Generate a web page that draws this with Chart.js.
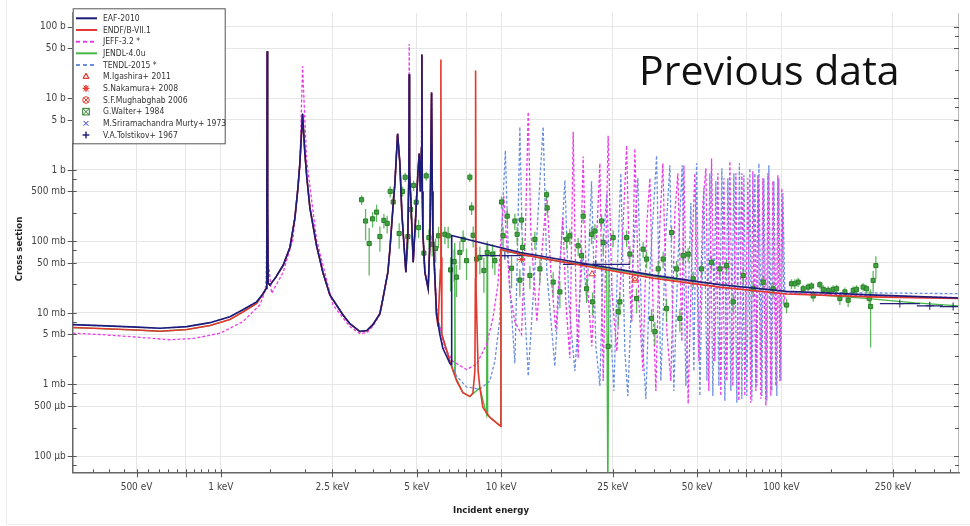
<!DOCTYPE html>
<html>
<head>
<meta charset="utf-8">
<script src="https://cdn.jsdelivr.net/npm/chart.js@4.4.0/dist/chart.umd.min.js"></script>
<style>
  html, body { margin: 0; background: #fff; }
  canvas { display: block; }
</style>
</head>
<body>
<canvas id="xs" width="970" height="526"></canvas>
<script>
// energies in keV, cross sections in mb
const xTickValues = [0.5, 0.75, 1, 2.5, 5, 7.5, 10, 25, 50, 75, 100, 250];
const xTickLabels = ['500 eV', '', '1 keV', '2.5 keV', '5 keV', '', '10 keV', '25 keV', '50 keV', '', '100 keV', '250 keV'];
const xMinorTicks = [0.35, 0.4, 0.45, 0.55, 0.6, 0.65, 0.7, 0.8, 0.85, 0.9, 0.95, 1.5, 2, 3, 3.5, 4, 4.5,
  5.5, 6, 6.5, 7, 8, 8.5, 9, 9.5, 15, 20, 30, 35, 40, 45, 55, 60, 65, 70, 80, 85, 90, 95, 150, 200, 300, 350, 400];
const yTickValues = [1e5, 5e4, 1e4, 5e3, 1e3, 500, 100, 50, 10, 5, 1, 0.5, 0.1];
const yTickLabels = ['100 b', '50 b', '10 b', '5 b', '1 b', '500 mb', '100 mb', '50 mb', '10 mb', '5 mb', '1 mb', '500 µb', '100 µb'];
const yMinorTicks = [7.5e4, 2.5e4, 7500, 2500, 750, 250, 75, 25, 7.5, 2.5, 0.75, 0.25, 0.075];

const flatEAF = [[0.296, 6.87], [0.370, 6.65], [0.501, 6.34], [0.606, 6.10], [0.756, 6.44], [0.914, 7.32],
  [1.077, 8.86], [1.198, 11.1], [1.341, 14.3]];
const flatENDF = [[0.296, 6.25], [0.370, 6.05], [0.501, 5.77], [0.606, 5.55], [0.756, 5.86], [0.914, 6.66],
  [1.077, 8.1], [1.198, 10.3], [1.341, 13.6]];
// resonances shared by EAF, ENDF, TENDL, JENDL (curves overlap)
const resLow = [[1.412, 18.4], [1.450, 22], [1.458, 200], [1.463, 45500], [1.468, 300], [1.475, 26], [1.496, 24.5],
  [1.571, 31.7], [1.668, 46.4], [1.763, 82.3], [1.837, 214], [1.883, 557], [1.913, 1234], [1.956, 6066],
  [1.994, 1696], [2.027, 765], [2.078, 294], [2.194, 87.8], [2.311, 37.1], [2.448, 17.9], [2.724, 9.45],
  [2.885, 7.09], [3.132, 5.50], [3.318, 5.67], [3.485, 6.87], [3.692, 9.75], [3.784, 15.7], [3.943, 37.1],
  [4.009, 77.3], [4.109, 294], [4.177, 653], [4.270, 3208], [4.351, 1234], [4.422, 251], [4.495, 96.5],
  [4.571, 37.1], [4.647, 133], [4.685, 900], [4.697, 21700], [4.712, 900], [4.762, 380], [4.854, 51.1],
  [4.963, 251], [5.045, 897], [5.100, 1696], [5.150, 500], [5.195, 2000], [5.213, 41000], [5.232, 500],
  [5.256, 133], [5.343, 37.1], [5.490, 21.8], [5.567, 96.5], [5.613, 1696], [5.645, 12100], [5.680, 500],
  [5.705, 133], [5.881, 9.45]];
const eafHigh = [[6.043, 5.0], [6.194, 3.2], [6.57, 1.95], [6.65, 1.9], [6.66, 121], [11.7, 70.2], [20.2, 48.4],
  [34.8, 33.8], [60.3, 24.8], [104, 20.1], [207, 17.9], [430, 16.2]];
const endfHigh = [[5.95, 6.5], [6.07, 40], [6.094, 35000], [6.115, 60], [6.143, 5.0], [6.561, 2.11], [6.934, 1.12],
  [7.302, 0.770], [7.734, 0.678], [7.93, 0.763], [8.058, 1.54], [8.09, 30], [8.105, 24600], [8.14, 20],
  [8.277, 1.54], [8.395, 0.903], [8.604, 0.478], [9.113, 0.347], [9.894, 0.267], [9.97, 0.26], [9.98, 77.3],
  [11.7, 66.5], [20.2, 45.0], [34.8, 30.7], [60.3, 23.0], [104, 18.4], [207, 16.8], [430, 16.0]];
const jendlHigh = [[6.143, 5.0], [6.561, 2.11], [6.80, 1.4], [6.83, 95], [6.86, 1.3], [7.302, 0.77], [7.734, 0.678],
  [8.395, 0.903], [8.87, 0.38], [8.91, 90], [8.95, 0.37], [9.894, 0.267], [9.97, 0.26], [9.98, 75], [15, 55],
  [23.8, 42], [24.02, 0.02], [24.25, 41], [40, 30], [70, 23.5], [120, 18.5], [200, 16.0], [300, 13.8], [430, 12.6]];
const jeffAll = [[0.296, 5.21], [0.370, 5.0], [0.500, 4.6], [0.658, 4.22], [0.80, 4.4], [0.992, 5.21], [1.198, 7.56],
  [1.378, 13.0], [1.436, 19.7], [1.455, 30], [1.462, 42000], [1.470, 60], [1.517, 18.8], [1.668, 37.1],
  [1.807, 107], [1.913, 1121], [1.956, 28240], [2.022, 1380], [2.194, 107], [2.509, 13.0], [2.885, 6.44],
  [3.132, 5.16], [3.318, 5.3], [3.485, 6.5], [3.692, 9.5], [3.784, 15.7], [3.943, 37.1], [4.009, 77.3],
  [4.109, 294], [4.177, 653], [4.270, 3208], [4.351, 1234], [4.422, 251], [4.495, 96.5], [4.571, 37.1],
  [4.647, 133], [4.685, 900], [4.697, 57650], [4.712, 900], [4.762, 380], [4.854, 51.1], [4.963, 251],
  [5.045, 897], [5.100, 1696], [5.150, 500], [5.195, 2000], [5.213, 41000], [5.232, 500], [5.256, 133],
  [5.343, 37.1], [5.490, 21.8], [5.567, 96.5], [5.613, 1696], [5.645, 12100], [5.680, 500], [5.705, 133],
  [5.881, 12], [6.194, 3.63], [6.725, 2.11], [7.523, 1.62], [8.17, 1.92], [8.87, 3.63], [9.34, 8.39],
  [9.73, 24.5], [10.22, 431], [10.74, 19.7], [11.19, 7.56], [11.82, 5.0], [12.20, 133], [12.49, 6465],
  [12.76, 133], [13.41, 7.56], [13.97, 70.2], [14.55, 475], [15.04, 37.1], [15.67, 5.50], [16.20, 51.1],
  [16.60, 214], [17.01, 14.3], [17.58, 2.33], [18.07, 3419], [18.47, 19.7], [18.82, 2.33], [19.24, 70.2],
  [19.61, 1542], [20.05, 51.1], [21.06, 3.41], [21.95, 133], [22.50, 1234], [23.12, 1.12], [24.08, 3010],
  [24.83, 19.7], [25.87, 2.91], [26.96, 70.2], [28.03, 2189], [28.79, 19.7], [29.27, 7.56], [29.99, 1990],
  [30.99, 14.3], [32.03, 1.54], [33.10, 183], [33.93, 765], [34.78, 14.3], [35.64, 0.813], [36.84, 183],
  [37.75, 1234], [39.01, 5.50], [40.31, 1.12], [41.66, 251], [42.70, 897], [44.13, 4.0], [44.86, 1158],
  [46.47, 0.537], [47.90, 70.2], [49.10, 897], [50.74, 2.11], [52.44, 345], [53.75, 1052], [55.08, 0.813],
  [56.32, 1447], [57.86, 2.11], [59.31, 897], [60.78, 0.693], [62.31, 765], [63.86, 1.12], [65.46, 1315],
  [67.09, 0.953], [68.77, 897], [70.47, 0.591], [72.24, 897], [74.04, 0.693], [75.87, 765], [77.77, 0.555],
  [79.07, 956], [81.04, 0.813], [82.38, 842], [84.43, 0.630], [85.83, 765], [87.97, 0.504], [89.44, 897],
  [91.67, 0.693], [93.18, 696], [95.50, 0.953], [97.10, 842], [98.70, 1.12], [100.3, 557], [102.0, 14.3],
  [103.7, 19.0], [200, 17.5], [430, 16.4]];
const tendlHigh = [[6.043, 6.1], [6.561, 2.11], [6.934, 1.31], [7.523, 0.924], [8.395, 0.859], [9.113, 1.12],
  [9.495, 2.11], [9.894, 8.39], [10.14, 345], [10.35, 1867], [10.65, 37.1], [11.19, 1.98], [11.47, 133],
  [11.66, 4010], [11.95, 37.1], [12.49, 1.31], [13.30, 70.2], [13.86, 1234], [14.12, 4010], [14.55, 37.1],
  [15.54, 1.80], [16.33, 70.2], [16.88, 718], [17.44, 14.3], [18.32, 1.54], [19.56, 70.2], [20.22, 14.3],
  [21.01, 696], [21.77, 3.41], [22.50, 0.953], [23.25, 133], [23.83, 475], [24.63, 5.50], [25.24, 0.813],
  [26.09, 70.2], [26.73, 897], [27.63, 2.91], [28.31, 0.693], [29.51, 51.1], [30.74, 765], [31.77, 5.50],
  [32.83, 0.630], [33.93, 37.1], [35.85, 1592], [37.14, 1.12], [38.70, 133], [39.99, 1158], [41.32, 0.813],
  [42.70, 51.1], [44.24, 1158], [45.60, 0.953], [47.52, 345], [48.70, 1.54], [49.79, 1234], [51.16, 0.693],
  [52.88, 557], [54.20, 1.12], [55.53, 897], [56.92, 0.693], [58.34, 696], [59.80, 0.953], [61.29, 1052],
  [62.82, 0.591], [64.40, 765], [66.00, 0.813], [67.65, 897], [69.34, 0.555], [70.78, 1234], [72.24, 0.630],
  [73.44, 842], [75.26, 0.693], [77.15, 1052], [78.43, 0.591], [80.37, 897], [81.71, 0.953], [83.08, 1234],
  [85.13, 0.693], [86.55, 765], [88.71, 0.591], [90.16, 1158], [92.41, 0.813], [93.96, 696], [96.29, 0.693],
  [97.88, 765], [99.52, 1.12], [101.2, 475], [102.8, 19.7], [104.5, 19.5], [430, 18.6]];

// measurements: [keV, mb, error mb]
const walter = [[3.177, 383, 60], [3.283, 193, 90], [3.381, 93.5, 60], [3.477, 207, 50], [3.593, 257, 70],
  [3.692, 117, 45], [3.815, 197, 45], [3.920, 179, 50], [4.018, 501, 90], [4.119, 356, 70], [4.326, 129, 50],
  [4.449, 501, 80], [4.545, 790, 120], [4.647, 117, 40], [4.751, 279, 70], [4.870, 607, 100], [4.976, 353, 80],
  [5.074, 156, 45], [5.301, 68.7, 20], [5.402, 824, 120], [5.523, 113, 35], [5.674, 91.5, 30], [5.834, 79.8, 30],
  [5.979, 120, 40], [6.297, 126, 35], [6.470, 120, 40], [6.599, 40.0, 20], [6.797, 52.2, 25], [6.933, 31.7, 15],
  [7.122, 70.2, 30], [7.317, 107, 35], [7.524, 53.9, 25], [7.733, 790, 110], [7.843, 294, 60], [7.945, 122, 40],
  [8.171, 56.7, 25], [8.395, 59.9, 25], [8.676, 39.2, 20], [8.915, 70.2, 30], [9.318, 66.5, 25], [9.495, 53.9, 20],
  [10.03, 356, 70], [10.16, 120, 40], [10.51, 226, 60], [10.89, 42.2, 20], [11.19, 193, 50], [11.40, 126, 35],
  [11.82, 199, 50], [11.92, 82.4, 30], [11.66, 28.8, 12], [13.19, 107, 30], [14.52, 450, 70], [14.59, 294, 60],
  [12.66, 33.4, 12], [13.75, 41.3, 15], [15.33, 27.0, 10], [16.20, 19.7, 8], [17.12, 107, 30], [17.58, 120, 30],
  [18.82, 86.9, 25], [19.36, 63.2, 20], [19.61, 226, 50], [20.17, 21.8, 8], [21.01, 126, 35], [21.19, 14.3, 5],
  [21.60, 140, 35], [22.81, 193, 45], [23.12, 96.6, 30], [24.08, 3.41, 1.5], [25.09, 113, 30], [26.15, 10.4, 4],
  [26.52, 14.3, 5], [28.03, 113, 30], [28.79, 66.5, 20], [30.41, 15.9, 6], [32.10, 78.0, 20], [33.03, 56.7, 15],
  [34.40, 8.39, 3], [35.34, 5.50, 2], [36.32, 41.3, 12], [37.84, 56.7, 15], [38.91, 11.5, 4], [40.54, 133, 30],
  [42.25, 41.3, 12], [43.41, 8.39, 3], [44.60, 63.2, 15], [46.47, 66.5, 15], [48.42, 30.0, 8], [51.87, 41.3, 10],
  [56.32, 51.1, 12], [60.28, 41.3, 10], [63.70, 46.0, 10], [67.24, 14.3, 4], [73.02, 33.4, 8], [79.25, 21.8, 5],
  [86.04, 27.0, 6], [93.41, 21.8, 5], [104.3, 12.9, 3], [108.6, 25.6, 4], [114.7, 27.0, 4], [111.6, 25.6, 4],
  [119.5, 21.8, 3], [124.5, 23.0, 3], [128.1, 23.8, 3], [129.8, 17.3, 3], [137.1, 24.8, 3], [140.9, 21.4, 3],
  [146.8, 20.7, 3], [152.9, 21.4, 3], [157.3, 21.8, 3], [161.6, 15.9, 3], [168.4, 19.7, 3], [173.0, 15.1, 3],
  [180.3, 20.7, 3], [185.3, 21.4, 3], [195.6, 23.0, 3], [201.2, 21.8, 3], [205.6, 15.9, 4], [208.0, 12.3, 9],
  [212.4, 28.5, 10], [217.2, 46.0, 16]];
// [keV, mb, keV low, keV high]
const tolstikov = [[10.31, 63.2, 8.4, 12.7], [21.77, 47.9, 16.6, 28.8], [264.5, 13.5, 224.4, 311.7],
  [338.3, 12.6, 304, 376.5], [409.8, 12.3, 367.4, 440]];
const murty = [[23.8, 95]];
const igashira = [[21.1, 35], [30.0, 28.5]];
const nakamura = [[11.82, 55.7]];
const mughabghab = [[30.0, 31]];

const legendOrder = ['EAF-2010', 'ENDF/B-VII.1', 'JEFF-3.2 *', 'JENDL-4.0u', 'TENDL-2015 *', 'M.Igashira+ 2011',
  'S.Nakamura+ 2008', 'S.F.Mughabghab 2006', 'G.Walter+ 1984', 'M.Sriramachandra Murty+ 1973', 'V.A.Tolstikov+ 1967'];

const FONT = '"DejaVu Sans Condensed", "DejaVu Sans", sans-serif';
const pts = (...parts) => [].concat(...parts).map(([x, y]) => ({ x, y }));
const curve = (label, data, color, width, dash) => ({
  label, data, showLine: true, borderColor: color, backgroundColor: color, borderWidth: width,
  borderDash: dash || [], pointRadius: 0, kind: 'line'
});
const marks = (label, data, style, color, radius, fill) => ({
  label, data, pointStyle: style, pointRadius: radius, borderColor: color, borderWidth: 1,
  backgroundColor: fill || 'rgba(0,0,0,0)', kind: 'mark'
});

const errorBars = {
  id: 'errorBars',
  beforeDatasetDraw(chart, args) {
    const ds = chart.data.datasets[args.index];
    if (!ds.errColor) return;
    const { ctx, chartArea: a, scales: { x, y } } = chart;
    ctx.save();
    ctx.beginPath();
    ctx.rect(a.left, a.top, a.right - a.left, a.bottom - a.top);
    ctx.clip();
    ctx.strokeStyle = ds.errColor;
    ctx.lineWidth = 1.3;
    ds.data.forEach(p => {
      ctx.beginPath();
      if (p.dy) {
        const px = x.getPixelForValue(p.x);
        const lo = p.y - p.dy > 0 ? y.getPixelForValue(p.y - p.dy) : a.bottom;
        ctx.moveTo(px, lo);
        ctx.lineTo(px, y.getPixelForValue(p.y + p.dy));
      }
      if (p.x0) {
        const py = y.getPixelForValue(p.y);
        ctx.moveTo(x.getPixelForValue(p.x0), py);
        ctx.lineTo(x.getPixelForValue(p.x1), py);
      }
      ctx.stroke();
    });
    ctx.restore();
  }
};

function drawMarker(ctx, ds, cx, cy, r) {
  ctx.strokeStyle = ds.borderColor;
  ctx.fillStyle = 'rgba(0,0,0,0)';
  ctx.lineWidth = 1;
  ctx.beginPath();
  if (ds.legendStyle === 'circleX' || ds.legendStyle === 'rectX') {
    if (ds.legendStyle === 'circleX') ctx.arc(cx, cy, r, 0, Math.PI * 2);
    else ctx.rect(cx - r, cy - r, 2 * r, 2 * r);
    const d = ds.legendStyle === 'circleX' ? r * 0.7 : r;
    ctx.moveTo(cx - d, cy - d); ctx.lineTo(cx + d, cy + d);
    ctx.moveTo(cx + d, cy - d); ctx.lineTo(cx - d, cy + d);
    ctx.stroke();
  } else {
    Chart.helpers.drawPoint(ctx, { pointStyle: ds.pointStyle, radius: r, borderWidth: 1, rotation: 0 }, cx, cy);
    ctx.stroke();
  }
}

const decorations = {
  id: 'decorations',
  afterDraw(chart) {
    const { ctx, chartArea: a, scales: { x, y } } = chart;
    ctx.save();
    // faint outer frame
    ctx.strokeStyle = '#ececec';
    ctx.lineWidth = 1;
    ctx.beginPath();
    ctx.moveTo(6.5, 0); ctx.lineTo(6.5, 524.5); ctx.lineTo(970, 524.5);
    ctx.stroke();
    // right frame
    ctx.strokeStyle = '#b8b8b8';
    ctx.beginPath();
    ctx.moveTo(a.right - 0.5, a.top); ctx.lineTo(a.right - 0.5, a.bottom);
    ctx.stroke();
    // tick marks
    ctx.strokeStyle = '#555';
    ctx.beginPath();
    xTickValues.forEach(v => {
      const p = Math.round(x.getPixelForValue(v)) + 0.5;
      ctx.moveTo(p, a.bottom - 3); ctx.lineTo(p, a.bottom + 5);
    });
    xMinorTicks.forEach(v => {
      const p = Math.round(x.getPixelForValue(v)) + 0.5;
      ctx.moveTo(p, a.bottom - 3); ctx.lineTo(p, a.bottom);
    });
    yTickValues.forEach(v => {
      const p = Math.round(y.getPixelForValue(v)) + 0.5;
      ctx.moveTo(a.left - 5, p); ctx.lineTo(a.left + 4, p);
      ctx.moveTo(a.right - 5, p); ctx.lineTo(a.right, p);
    });
    yMinorTicks.forEach(v => {
      const p = Math.round(y.getPixelForValue(v)) + 0.5;
      ctx.moveTo(a.left, p); ctx.lineTo(a.left + 4, p);
      ctx.moveTo(a.right - 4, p); ctx.lineTo(a.right, p);
    });
    ctx.stroke();

    // axis titles
    ctx.fillStyle = '#222';
    ctx.font = 'bold 9.5px ' + FONT;
    ctx.textAlign = 'center';
    ctx.textBaseline = 'middle';
    ctx.fillText('Incident energy', 491, 511);
    ctx.translate(20, 249);
    ctx.rotate(-Math.PI / 2);
    ctx.fillText('Cross section', 0, 0);
    ctx.setTransform(1, 0, 0, 1, 0, 0);

    // legend box
    const lx = 72.7, ly = 8.3, lw = 152, lh = 135;
    ctx.fillStyle = '#fff';
    ctx.fillRect(lx, ly, lw, lh);
    ctx.strokeStyle = '#555';
    ctx.strokeRect(lx + 0.5, ly + 0.5, lw, lh);
    ctx.font = '8.5px ' + FONT;
    ctx.textAlign = 'left';
    legendOrder.forEach((name, i) => {
      const ds = chart.data.datasets.find(d => d.label === name);
      const cy = 18.3 + i * 11.67;
      if (ds.kind === 'line') {
        ctx.strokeStyle = ds.borderColor;
        ctx.lineWidth = 2;
        ctx.setLineDash(ds.borderDash.length ? [4, 3] : []);
        ctx.beginPath();
        ctx.moveTo(76, cy); ctx.lineTo(97, cy);
        ctx.stroke();
        ctx.setLineDash([]);
      } else {
        drawMarker(ctx, ds, 86, cy, 3.3);
      }
      ctx.fillStyle = '#333';
      ctx.fillText(name, 103, cy + 0.5);
    });

    // annotation
    ctx.fillStyle = '#111';
    ctx.font = '41px "Open Sans", sans-serif';
    ctx.textAlign = 'left';
    ctx.textBaseline = 'alphabetic';
    ctx.fillText('Previous data', 639, 85);
    ctx.restore();
  }
};

const walterSet = marks('G.Walter+ 1984', walter.map(([x, y, dy]) => ({ x, y, dy })), 'rect', '#2b7f2b', 2.9, '#3fa23f');
walterSet.errColor = 'rgba(70,170,70,0.85)';
walterSet.legendStyle = 'rectX';
const tolSet = marks('V.A.Tolstikov+ 1967', tolstikov.map(([x, y, x0, x1]) => ({ x, y, x0, x1 })), 'cross', '#22227a', 4);
tolSet.errColor = '#22227a';
const mughSet = marks('S.F.Mughabghab 2006', pts(mughabghab), 'circle', '#e23a30', 3);
mughSet.legendStyle = 'circleX';

new Chart(document.getElementById('xs'), {
  type: 'scatter',
  data: {
    datasets: [
      curve('EAF-2010', pts(flatEAF, resLow, eafHigh), '#1c1c78', 1.6),
      curve('ENDF/B-VII.1', pts(flatENDF, resLow, endfHigh), '#e2382e', 1.6),
      tolSet,
      marks('M.Sriramachandra Murty+ 1973', pts(murty), 'crossRot', '#6a6ad6', 3.5),
      marks('M.Igashira+ 2011', pts(igashira), 'triangle', '#e23a30', 3.5),
      marks('S.Nakamura+ 2008', pts(nakamura), 'star', '#e23a30', 3.5),
      mughSet,
      walterSet,
      curve('JEFF-3.2 *', pts(jeffAll), '#e83ce8', 1.3, [3, 2]),
      curve('TENDL-2015 *', pts(flatEAF, resLow, tendlHigh), '#6a8fde', 1.3, [3, 2]),
      curve('JENDL-4.0u', pts(flatENDF, resLow, jendlHigh), '#45b845', 1.3)
    ]
  },
  options: {
    responsive: false,
    animation: false,
    devicePixelRatio: 1,
    layout: { padding: { left: 0, top: 8, right: 11, bottom: 0 } },
    plugins: { legend: { display: false }, tooltip: { enabled: false } },
    scales: {
      x: {
        type: 'logarithmic',
        min: 0.296,
        max: 430,
        afterFit(s) { s.height = 53.7; },
        afterBuildTicks(s) { s.ticks = xTickValues.map(v => ({ value: v })); },
        ticks: {
          callback: (v, i) => xTickLabels[i],
          autoSkip: false, maxRotation: 0, padding: 9,
          color: '#444', font: { family: FONT, size: 10 }
        },
        grid: { color: '#e6e6e6', drawTicks: false },
        border: { color: '#666', width: 1.5 }
      },
      y: {
        type: 'logarithmic',
        min: 0.0592,
        max: 156200,
        afterFit(s) { s.width = 72.7; },
        afterBuildTicks(s) { s.ticks = yTickValues.map(v => ({ value: v })); },
        ticks: {
          callback: (v, i) => yTickLabels[i],
          autoSkip: false, padding: 7,
          color: '#444', font: { family: FONT, size: 10 }
        },
        grid: { color: '#e6e6e6', drawTicks: false },
        border: { color: '#666', width: 1.5 }
      }
    }
  },
  plugins: [errorBars, decorations]
});
</script>
</body>
</html>
